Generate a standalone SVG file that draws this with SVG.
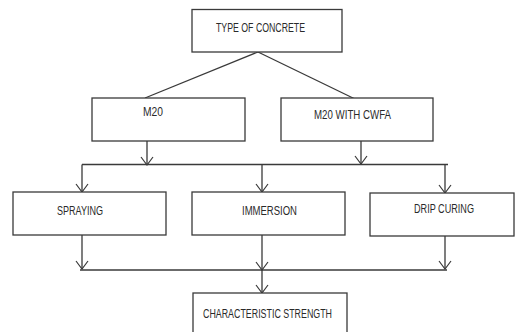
<svg xmlns="http://www.w3.org/2000/svg" width="516" height="332" viewBox="0 0 516 332">
<style>
.box{fill:#fff;stroke:#3a3a3a;stroke-width:1.3}
.t{font-family:"Liberation Sans",Arial,sans-serif;font-size:12.5px;fill:#2a2a2a}
.c{stroke:#3a3a3a;stroke-width:1.3;fill:none}
</style>
<defs>
<marker id="v" viewBox="-10 -7 12 14" markerWidth="12" markerHeight="14" refX="0" refY="0" orient="auto" markerUnits="userSpaceOnUse">
<path d="M-8,-6 L0,0 L-8,6" fill="none" stroke="#3a3a3a" stroke-width="1.2"/>
</marker>
</defs>
<rect width="516" height="332" fill="#fff"/>
<g id="connectors">
<line class="c" x1="258" y1="52" x2="145" y2="98"/>
<line class="c" x1="258" y1="52" x2="355" y2="99"/>
<line class="c" x1="147" y1="141" x2="147" y2="165" marker-end="url(#v)"/>
<line class="c" x1="361" y1="141" x2="361" y2="164" marker-end="url(#v)"/>
<line class="c" x1="82" y1="164.5" x2="448" y2="164.5"/>
<line class="c" x1="82" y1="164.5" x2="82" y2="192" marker-end="url(#v)"/>
<line class="c" x1="262" y1="164.5" x2="262" y2="192" marker-end="url(#v)"/>
<line class="c" x1="445" y1="164.5" x2="445" y2="193" marker-end="url(#v)"/>
<line class="c" x1="82" y1="235" x2="82" y2="269" marker-end="url(#v)"/>
<line class="c" x1="262" y1="235" x2="262" y2="270" marker-end="url(#v)"/>
<line class="c" x1="445" y1="236" x2="445" y2="269" marker-end="url(#v)"/>
<line class="c" x1="80" y1="270" x2="447" y2="270"/>
<line class="c" x1="262" y1="270" x2="262" y2="293" marker-end="url(#v)"/>
</g>
<g id="type-of-concrete">
<rect class="box" x="192" y="9.5" width="150" height="42.5"/>
<text class="t" x="216" y="32" textLength="89" lengthAdjust="spacingAndGlyphs">TYPE OF CONCRETE</text>
</g>
<g id="m20">
<rect class="box" x="92" y="98" width="153" height="43"/>
<text class="t" x="143" y="116" textLength="20" lengthAdjust="spacingAndGlyphs">M20</text>
</g>
<g id="m20-cwfa">
<rect class="box" x="281" y="98" width="152" height="43"/>
<text class="t" x="314" y="119" textLength="77" lengthAdjust="spacingAndGlyphs">M20 WITH CWFA</text>
</g>
<g id="spraying">
<rect class="box" x="13" y="192" width="153" height="43"/>
<text class="t" x="57" y="215" textLength="46" lengthAdjust="spacingAndGlyphs">SPRAYING</text>
</g>
<g id="immersion">
<rect class="box" x="192" y="192" width="153" height="43"/>
<text class="t" x="242" y="215" textLength="55" lengthAdjust="spacingAndGlyphs">IMMERSION</text>
</g>
<g id="drip-curing">
<rect class="box" x="370" y="193" width="144" height="43"/>
<text class="t" x="414" y="213" textLength="60" lengthAdjust="spacingAndGlyphs">DRIP CURING</text>
</g>
<g id="characteristic-strength">
<rect class="box" x="193" y="293" width="154" height="45"/>
<text class="t" x="203" y="318" textLength="129" lengthAdjust="spacingAndGlyphs">CHARACTERISTIC STRENGTH</text>
</g>
</svg>
